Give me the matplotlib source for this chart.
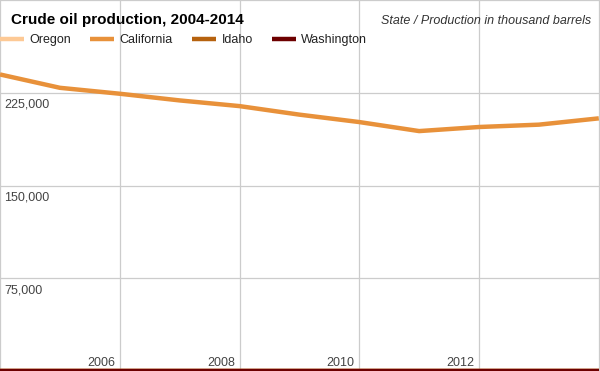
import numpy as np
import matplotlib.pyplot as plt
from matplotlib import transforms

plt.rcParams['font.family'] = ['Liberation Sans', 'DejaVu Sans']

# data (thousand barrels)
years = np.arange(2004, 2015)
oregon = [0, 0, 0, 0, 0, 0, 0, 0, 0, 0, 0]
california = [239800, 229000, 224200, 218800, 214200, 207300,
              201300, 194000, 197300, 199200, 204300]
idaho = [0, 0, 0, 0, 0, 0, 0, 0, 0, 0, 0]
washington = [0, 0, 0, 0, 0, 0, 0, 0, 0, 0, 0]

series_names = ['Oregon', 'California', 'Idaho', 'Washington']
series_values = [oregon, california, idaho, washington]
series_colors = ['#fdc995', '#e8913a', '#b6620e', '#6d0000']

x_ticks = [2004, 2006, 2008, 2010, 2012, 2014]
x_labels = ['2006', '2008', '2010', '2012']
y_ticks = [0, 75000, 150000, 225000, 300000]
y_labels = ['75,000', '150,000', '225,000']

fig = plt.figure(figsize=(6, 3.71), dpi=100)
ax = fig.add_axes([0, 0, 1, 1])
ax.set_xlim(2004, 2014.02)
ax.set_ylim(0, 300000)

lines = []
for name, vals, col in zip(series_names, series_values, series_colors):
    ln, = ax.plot(years, vals, color=col, lw=3.2, label=name,
                  solid_capstyle='butt', zorder=3)
    lines.append(ln)

# grid
ax.set_xticks(x_ticks)
ax.set_yticks(y_ticks)
ax.grid(True, color='#cccccc', lw=0.9, zorder=0)
ax.tick_params(length=0, labelbottom=False, labelleft=False)
for s in ax.spines.values():
    s.set_visible(False)

# tick labels drawn inside the plot
xoff = transforms.offset_copy(ax.get_xaxis_transform(), fig=fig, x=-4.5, y=5.5, units='dots')
for yr in x_labels:
    ax.text(int(yr), 0, yr, transform=xoff, ha='right', va='baseline',
            fontsize=9, color='#444444')

yoff = transforms.offset_copy(ax.get_yaxis_transform(), fig=fig, x=4.5, y=-15, units='dots')
for lab in y_labels:
    ax.text(0, int(lab.replace(',', '')), lab, transform=yoff, ha='left',
            va='baseline', fontsize=9, color='#444444')

# title and subtitle
fig.text(11 / 600, 1 - 24 / 371, 'Crude oil production, 2004-2014',
         fontsize=11, fontweight='bold', color='#000000', va='baseline')
fig.text(591 / 600, 1 - 24 / 371, 'State / Production in thousand barrels',
         fontsize=9, style='italic', color='#333333', ha='right', va='baseline')

fig.legend(handles=lines, loc='center left', bbox_to_anchor=(0, 1 - 40 / 371),
           ncol=4, frameon=False, fontsize=9, handlelength=1.92,
           handletextpad=0.42, columnspacing=1.55, borderpad=0,
           borderaxespad=0, labelcolor='#222222')

fig.savefig('out.png', dpi=100)
